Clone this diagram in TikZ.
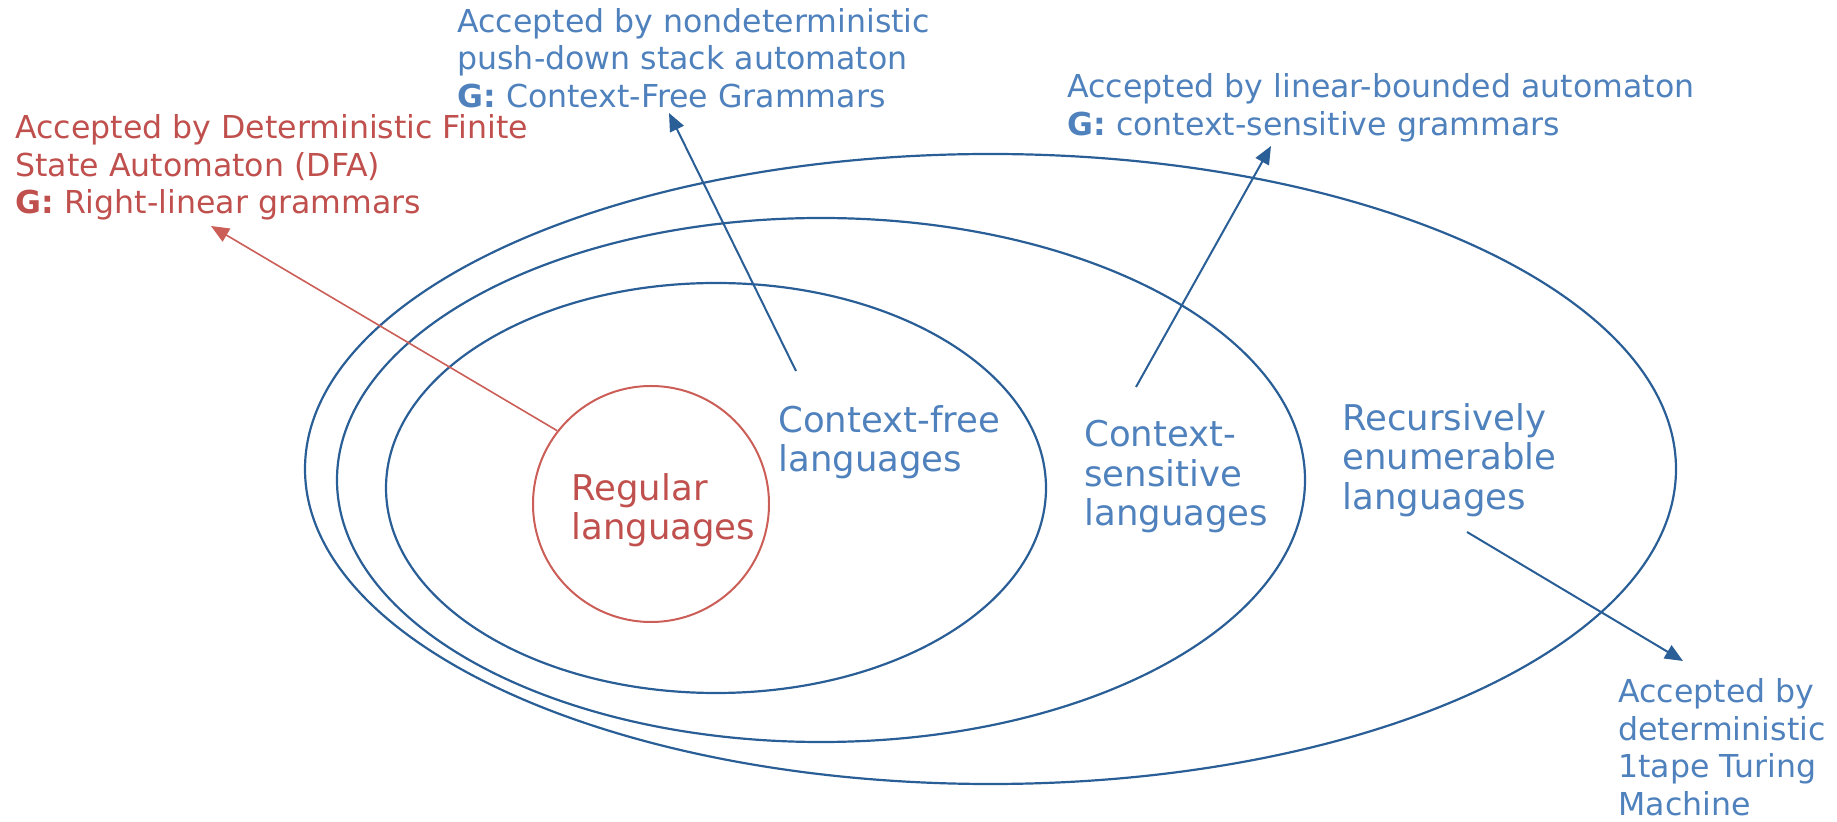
\documentclass[tikz,border=0pt]{standalone}
\usepackage{fontspec}
\setmainfont{DejaVu Sans}
\usepackage{tikz}
\usetikzlibrary{shapes.geometric,arrows.meta}
\definecolor{langblue}{HTML}{4F81BD}
\definecolor{lineblue}{HTML}{2A5E96}
\definecolor{langred}{HTML}{C0504D}
\definecolor{linered}{HTML}{CC5E58}
\tikzstyle{set} = [draw=lineblue, line width=1.1pt]
\tikzstyle{acceptor} = [anchor=north west, inner sep=0pt, align=left, text=langblue, font=\fontsize{15.8}{18.8}\selectfont]
\tikzstyle{langname} = [anchor=north west, inner sep=0pt, align=left, text=langblue, font=\fontsize{17.75}{19.75}\selectfont]
\tikzstyle{arrow} = [line width=1pt, draw=lineblue, -{Triangle[length=9pt,width=7.5pt]}]

\begin{document}
\begin{tikzpicture}[x=0.5pt,y=-0.5pt]
\useasboundingbox (0,0) rectangle (1837,822);
\draw [set] (990.5,469) ellipse [x radius=685.5, y radius=315];
\draw [set] (821,480) ellipse [x radius=484, y radius=262];
\draw [set] (716,488) ellipse [x radius=330, y radius=205];
\node (regular) [circle, draw=linered, line width=1pt, minimum size=118pt, inner sep=0pt] at (651,504) {};

\node (regularText) [langname, text=langred] at (571,473) {Regular\\languages};
\node (cfText) [langname] at (778,405) {Context-free\\languages};
\node (csText) [langname] at (1084,420) {Context-\\sensitive\\languages};
\node (reText) [langname] at (1342,403) {Recursively\\enumerable\\languages};

\node (dfaText) [acceptor, text=langred] at (15,114) {Accepted by Deterministic Finite\\State Automaton (DFA)\\\textbf{G:} Right-linear grammars};
\node (pdaText) [acceptor] at (457,8) {Accepted by nondeterministic\\push-down stack automaton\\\textbf{G:} Context-Free Grammars};
\node (lbaText) [acceptor] at (1067,73) {Accepted by linear-bounded automaton\\\textbf{G:} context-sensitive grammars};
\node (tmText) [acceptor] at (1618,678) {Accepted by\\deterministic\\1tape Turing\\Machine};

\coordinate (dfaTip) at (211,226);
\coordinate (pdaFrom) at (796,371);
\coordinate (pdaTip) at (669,113);
\coordinate (lbaFrom) at (1136,387);
\coordinate (lbaTip) at (1271,146);
\coordinate (tmFrom) at (1467,532);
\coordinate (tmTip) at (1683,661);

\draw [arrow, draw=linered, line width=0.8pt] (regular.142) -- (dfaTip);
\draw [arrow] (pdaFrom) -- (pdaTip);
\draw [arrow] (lbaFrom) -- (lbaTip);
\draw [arrow] (tmFrom) -- (tmTip);
\end{tikzpicture}
\end{document}
